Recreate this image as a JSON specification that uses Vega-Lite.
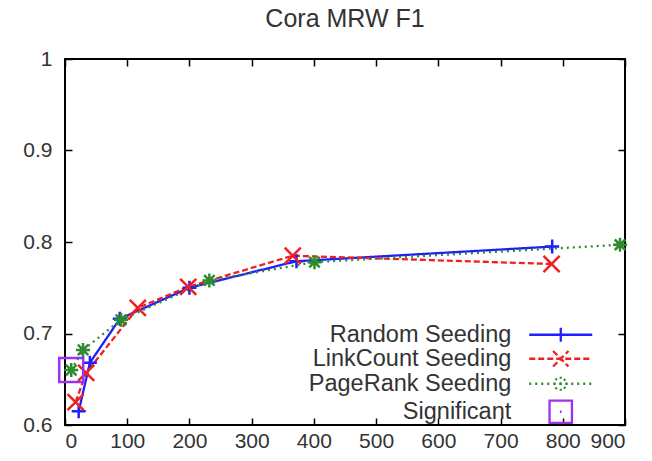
{
  "$schema": "https://vega.github.io/schema/vega-lite/v6.json",
  "width": 560,
  "height": 366,
  "autosize": "none",
  "padding": {"left": 65, "top": 59, "right": 27, "bottom": 36},
  "background": "white",
  "title": {"text": "Cora MRW F1", "fontSize": 25, "font": "Liberation Sans", "fontWeight": "normal", "color": "#333333", "offset": 16},
  "config": {
    "view": {"stroke": "#000000", "strokeWidth": 2},
    "axis": {"grid": false, "domain": false, "ticks": true, "tickSize": -7, "tickColor": "#000000", "tickWidth": 1.5, "labelFont": "Liberation Sans", "labelFontSize": 21, "labelColor": "#333333", "title": null}
  },
  "data": {"values": [
    {"series": "Random Seeding", "x": 22, "f1": 0.615},
    {"series": "Random Seeding", "x": 40, "f1": 0.668},
    {"series": "Random Seeding", "x": 88, "f1": 0.716},
    {"series": "Random Seeding", "x": 200, "f1": 0.750},
    {"series": "Random Seeding", "x": 372, "f1": 0.779},
    {"series": "Random Seeding", "x": 783, "f1": 0.795},
    {"series": "LinkCount Seeding", "x": 17, "f1": 0.625},
    {"series": "LinkCount Seeding", "x": 34, "f1": 0.657},
    {"series": "LinkCount Seeding", "x": 117, "f1": 0.728},
    {"series": "LinkCount Seeding", "x": 198, "f1": 0.751},
    {"series": "LinkCount Seeding", "x": 366, "f1": 0.785},
    {"series": "LinkCount Seeding", "x": 782, "f1": 0.776},
    {"series": "PageRank Seeding", "x": 10, "f1": 0.660},
    {"series": "PageRank Seeding", "x": 29, "f1": 0.682},
    {"series": "PageRank Seeding", "x": 90, "f1": 0.715},
    {"series": "PageRank Seeding", "x": 232, "f1": 0.758},
    {"series": "PageRank Seeding", "x": 401, "f1": 0.778},
    {"series": "PageRank Seeding", "x": 892, "f1": 0.797},
    {"series": "Significant", "x": 10, "f1": 0.660}
  ]},
  "layer": [
    {
      "transform": [{"filter": "datum.series !== 'Significant'"}],
      "mark": {"type": "line", "strokeWidth": 2.3},
      "encoding": {
        "x": {"field": "x", "type": "quantitative", "scale": {"domain": [0, 900], "nice": false, "zero": false},
              "axis": {"values": [0, 100, 200, 300, 400, 500, 600, 700, 800, 900], "format": "d", "labelPadding": 12}},
        "y": {"field": "f1", "type": "quantitative", "scale": {"domain": [0.6, 1], "nice": false, "zero": false},
              "axis": {"values": [0.6, 0.7, 0.8, 0.9, 1], "format": "~g", "labelPadding": 20}},
        "color": {"field": "series", "type": "nominal",
                  "scale": {"domain": ["Random Seeding", "LinkCount Seeding", "PageRank Seeding", "Significant"], "range": ["#1f1fff", "#f02020", "#2e8b2e", "#a030f0"]},
                  "legend": {"orient": "none", "legendX": 484, "legendY": 264, "title": null, "padding": 0, "rowPadding": -1,
                             "symbolSize": 196, "symbolStrokeWidth": 2.3, "symbolFillColor": "transparent", "symbolOpacity": 1, "labelLimit": 400,
                             "symbolType": {"expr": "datum.value === 'Random Seeding' ? 'M-4.5,0H4.5M0,-1V1' : datum.value === 'LinkCount Seeding' ? 'M-4.5,0H4.5M-1.1,-1.1L1.1,1.1M-1.1,1.1L1.1,-1.1' : datum.value === 'PageRank Seeding' ? 'M-4.5,0H4.5M0,-1V1M-1,0H1M-0.75,-0.75L0.75,0.75M-0.75,0.75L0.75,-0.75' : 'M-1.6,-1.6H1.6V1.6H-1.6ZM-0.12,0H0.12'"},
                             "symbolDash": {"expr": "datum.value === 'LinkCount Seeding' ? [6, 3] : datum.value === 'PageRank Seeding' ? [2, 4] : [1, 0]"},
                             "labelAlign": "right", "labelOffset": -61.2, "labelFont": "Liberation Sans", "labelFontSize": 23.5, "labelColor": "#333333"}},
        "strokeDash": {"field": "series", "type": "nominal",
                       "scale": {"domain": ["Random Seeding", "LinkCount Seeding", "PageRank Seeding"], "range": [[1, 0], [6, 3], [2, 4]]},
                       "legend": null}
      }
    },
    {
      "transform": [{"filter": "datum.series !== 'Significant'"}],
      "mark": {"type": "point", "filled": false, "strokeWidth": 2.5, "opacity": 1, "size": 196},
      "encoding": {
        "x": {"field": "x", "type": "quantitative", "scale": {"domain": [0, 900], "nice": false, "zero": false},
              "axis": {"orient": "top", "values": [0, 100, 200, 300, 400, 500, 600, 700, 800, 900], "labels": false}},
        "y": {"field": "f1", "type": "quantitative", "scale": {"domain": [0.6, 1], "nice": false, "zero": false},
              "axis": {"orient": "right", "values": [0.6, 0.7, 0.8, 0.9, 1], "labels": false}},
        "color": {"field": "series", "type": "nominal",
                  "scale": {"domain": ["Random Seeding", "LinkCount Seeding", "PageRank Seeding", "Significant"], "range": ["#1f1fff", "#f02020", "#2e8b2e", "#a030f0"]}},
        "shape": {"field": "series", "type": "nominal",
                  "scale": {"domain": ["PageRank Seeding", "Random Seeding", "LinkCount Seeding"],
                            "range": ["M-1,0H1M0,-1V1M-0.75,-0.75L0.75,0.75M-0.75,0.75L0.75,-0.75", "M-1,0H1M0,-1V1", "M-1.15,-1.15L1.15,1.15M-1.15,1.15L1.15,-1.15"]},
                  "legend": null}
      }
    },
    {
      "transform": [{"filter": "datum.series === 'Significant'"}],
      "mark": {"type": "point", "filled": false, "strokeWidth": 2.5, "opacity": 1, "shape": "square", "size": 576},
      "encoding": {
        "x": {"field": "x", "type": "quantitative", "axis": null},
        "y": {"field": "f1", "type": "quantitative", "axis": null},
        "color": {"field": "series", "type": "nominal",
                  "scale": {"domain": ["Random Seeding", "LinkCount Seeding", "PageRank Seeding", "Significant"], "range": ["#1f1fff", "#f02020", "#2e8b2e", "#a030f0"]}}
      }
    }
  ],
  "resolve": {"axis": {"x": "independent", "y": "independent"}}
}
